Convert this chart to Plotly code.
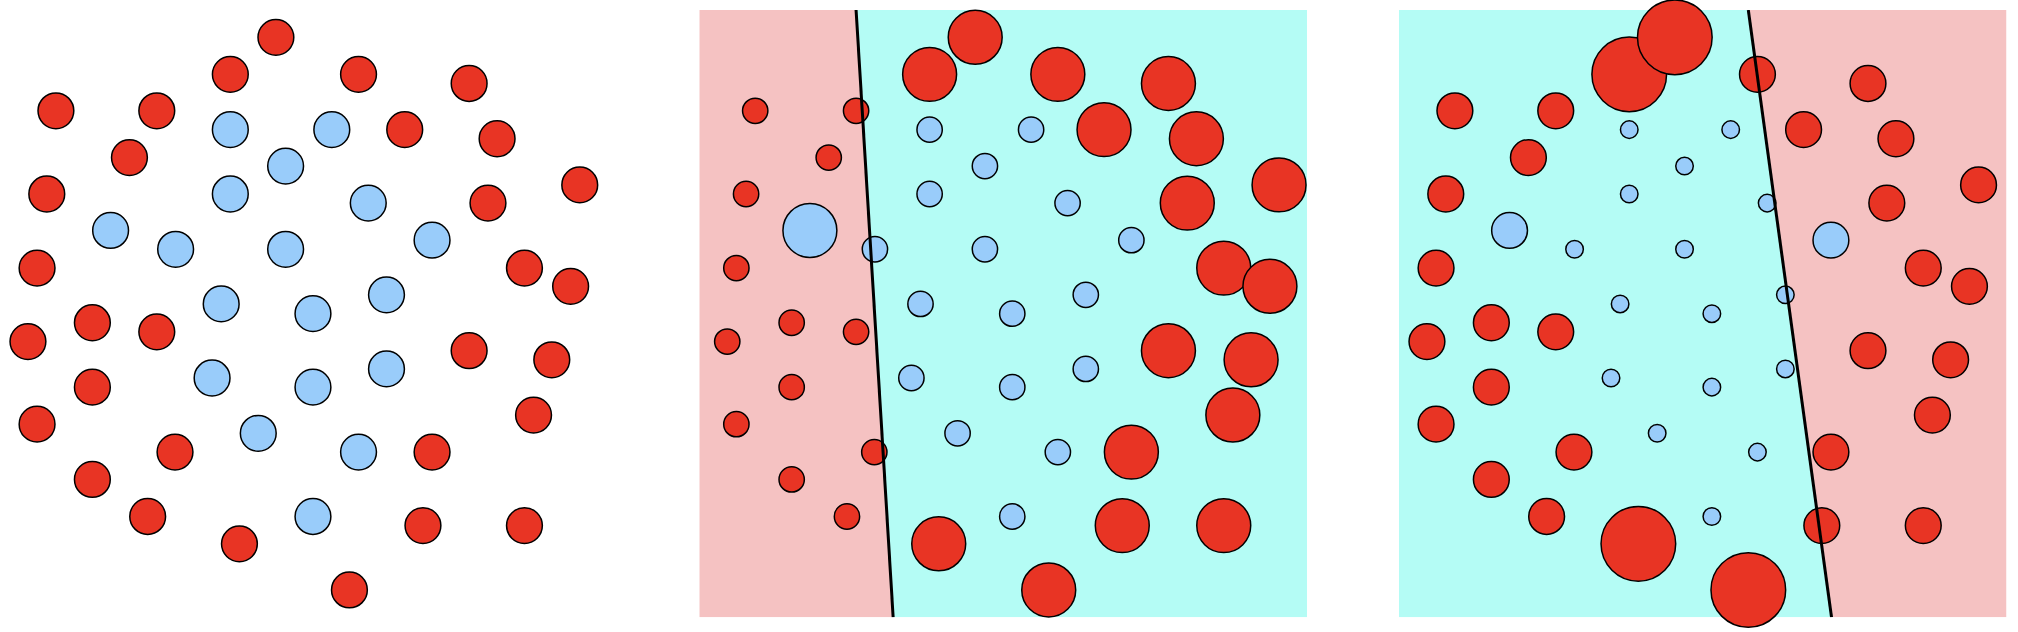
import plotly.graph_objects as go

# Sample positions (shared by all three panels), data units 0..100
red_x = [37.9, 45.4, 59.0, 77.2, 66.6, 81.8, 95.4, 80.3, 86.3, 93.9, 77.2, 90.8, 87.8, 71.1, 69.6, 86.3, 39.4, 57.5,
         9.2, 25.8, 21.3, 7.7, 6.1, 15.2, 25.8, 4.6, 15.2, 6.1, 28.8, 15.2, 24.3]
red_y = [89.4, 95.5, 89.4, 87.9, 80.3, 78.8, 71.2, 68.2, 57.5, 54.5, 43.9, 42.4, 33.3, 27.2, 15.1, 15.1, 12.1, 4.5,
         83.4, 83.4, 75.7, 69.7, 57.5, 48.5, 47.0, 45.4, 37.9, 31.8, 27.2, 22.7, 16.6]
blue_x = [37.9, 54.6, 47.0, 37.9, 60.6, 18.2, 28.9, 47.0, 71.1, 36.4, 51.5, 63.6, 34.9, 51.5, 63.6, 42.5, 59.0, 51.5]
blue_y = [80.3, 80.3, 74.3, 69.7, 68.2, 63.7, 60.6, 60.6, 62.1, 51.6, 50.0, 53.1, 39.4, 37.9, 40.9, 30.3, 27.2, 16.6]

# Relative sample weights per boosting round (panel)
red_w1 = [1.0] * 31
blue_w1 = [1.0] * 18
red_w2 = [2.27] * 18 + [0.5] * 13
blue_w2 = [0.5, 0.5, 0.5, 0.5, 0.5, 2.27, 0.5, 0.5, 0.5, 0.5, 0.5, 0.5, 0.5, 0.5, 0.5, 0.5, 0.5, 0.5]
red_w3 = [4.35, 4.35] + [1.0] * 14 + [4.35, 4.35] + [1.0] * 13
blue_w3 = [0.24, 0.24, 0.24, 0.24, 0.24, 1.0, 0.24, 0.24, 1.0, 0.24, 0.24, 0.24, 0.24, 0.24, 0.24, 0.24, 0.24, 0.24]

# Weak-learner decision boundaries: x at top (y=100) and bottom (y=0)
boundary2 = [25.8, 31.9]
boundary3 = [57.5, 71.2]

RED = "#E83424"
BLUE = "#99CCFA"
PINK = "#F5C2C2"
CYAN = "#B4FCF5"

W, H = 2018, 632
doms = [(0.0, 607.7), (699.3, 1307.0), (1399.0, 2006.5)]
ytop, ybot = 10.0, 617.3

fig = go.Figure()

def size(w):
    return [35.8 * (v ** 0.5) for v in w]

def add_points(i, rw, bw):
    xa = "x" if i == 1 else f"x{i}"
    ya = "y" if i == 1 else f"y{i}"
    fig.add_trace(go.Scatter(x=red_x, y=red_y, mode="markers", xaxis=xa, yaxis=ya, cliponaxis=False,
                             marker=dict(color=RED, size=size(rw), opacity=1,
                                         line=dict(color="black", width=1.5)),
                             hoverinfo="skip", showlegend=False))
    fig.add_trace(go.Scatter(x=blue_x, y=blue_y, mode="markers", xaxis=xa, yaxis=ya, cliponaxis=False,
                             marker=dict(color=BLUE, size=size(bw), opacity=1,
                                         line=dict(color="black", width=1.5)),
                             hoverinfo="skip", showlegend=False))

def add_regions(i, b, left_color, right_color):
    xa, ya = f"x{i}", f"y{i}"
    fig.add_trace(go.Scatter(x=[0, b[0], b[1], 0, 0], y=[100, 100, 0, 0, 100], fill="toself", mode="lines",
                             line=dict(width=0), fillcolor=left_color, xaxis=xa, yaxis=ya,
                             hoverinfo="skip", showlegend=False))
    fig.add_trace(go.Scatter(x=[b[0], 100, 100, b[1], b[0]], y=[100, 100, 0, 0, 100], fill="toself", mode="lines",
                             line=dict(width=0), fillcolor=right_color, xaxis=xa, yaxis=ya,
                             hoverinfo="skip", showlegend=False))

def add_boundary(i, b):
    fig.add_trace(go.Scatter(x=b, y=[100, 0], mode="lines", line=dict(color="black", width=3),
                             xaxis=f"x{i}", yaxis=f"y{i}", cliponaxis=False, hoverinfo="skip", showlegend=False))

add_points(1, red_w1, blue_w1)
add_regions(2, boundary2, PINK, CYAN)
add_points(2, red_w2, blue_w2)
add_boundary(2, boundary2)
add_regions(3, boundary3, CYAN, PINK)
add_points(3, red_w3, blue_w3)
add_boundary(3, boundary3)

layout = dict(width=W, height=H, margin=dict(l=0, r=0, t=0, b=0),
              paper_bgcolor="white", plot_bgcolor="rgba(0,0,0,0)")
for k, (a, b) in enumerate(doms, start=1):
    sx = "xaxis" if k == 1 else f"xaxis{k}"
    sy = "yaxis" if k == 1 else f"yaxis{k}"
    layout[sx] = dict(domain=[a / W, b / W], range=[0, 100], visible=False, fixedrange=True,
                      anchor="y" if k == 1 else f"y{k}")
    layout[sy] = dict(domain=[1 - ybot / H, 1 - ytop / H], range=[0, 100], visible=False, fixedrange=True,
                      anchor="x" if k == 1 else f"x{k}")
fig.update_layout(**layout)

fig.write_html("out.html", config={"staticPlot": True},
               post_script="document.body.style.margin='0';document.body.style.overflow='hidden';")
